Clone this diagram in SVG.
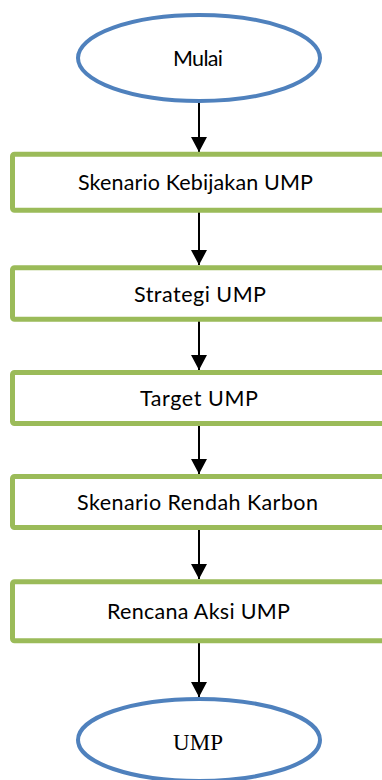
<svg xmlns="http://www.w3.org/2000/svg" width="382" height="780" viewBox="0 0 382 780">
<style>
.term{fill:#fff;stroke:#4F81BD;stroke-width:4}
.box{fill:#fff;stroke:#9BBB59;stroke-width:5}
.lbl{font-family:Lato,"Open Sans","Liberation Sans",sans-serif;font-size:21.5px;fill:#000;text-anchor:middle}
.tlbl{font-family:"Liberation Serif","Times New Roman",serif;font-size:23px;fill:#000;text-anchor:middle}
.conn{stroke:#000;stroke-width:2;fill:none;marker-end:url(#ah)}
</style>
<defs>
<marker id="ah" markerUnits="userSpaceOnUse" markerWidth="16" markerHeight="16" viewBox="0 0 16 16" refX="15" refY="8" orient="auto">
<path d="M0,0 L15,8 L0,16 Z" fill="#000"/>
</marker>
</defs>
<rect width="382" height="780" fill="#fff"/>
<g id="connectors">
<line class="conn" x1="199" y1="101" x2="199" y2="152"/>
<line class="conn" x1="199" y1="212" x2="199" y2="265"/>
<line class="conn" x1="199" y1="321" x2="199" y2="370"/>
<line class="conn" x1="199" y1="426" x2="199" y2="474"/>
<line class="conn" x1="199" y1="530" x2="199" y2="579"/>
<line class="conn" x1="199" y1="643" x2="199" y2="697"/>
</g>
<g id="mulai">
<ellipse class="term" cx="199" cy="58" rx="121" ry="43"/>
<text class="lbl" x="198" y="66" textLength="50">Mulai</text>
</g>
<g id="skenario-kebijakan">
<rect class="box" x="12.5" y="154.2" width="390" height="56" rx="2"/>
<text class="lbl" x="195.5" y="190" textLength="235">Skenario Kebijakan UMP</text>
</g>
<g id="strategi">
<rect class="box" x="12.5" y="267.8" width="390" height="51.4" rx="2"/>
<text class="lbl" x="200" y="302" textLength="132">Strategi UMP</text>
</g>
<g id="target">
<rect class="box" x="12.5" y="372.5" width="390" height="51" rx="2"/>
<text class="lbl" x="199" y="406" textLength="118">Target UMP</text>
</g>
<g id="skenario-rendah">
<rect class="box" x="12.5" y="476.5" width="390" height="51" rx="2"/>
<text class="lbl" x="197.5" y="510" textLength="241">Skenario Rendah Karbon</text>
</g>
<g id="rencana">
<rect class="box" x="12.5" y="581.8" width="390" height="59" rx="2"/>
<text class="lbl" x="198.5" y="619" textLength="183">Rencana Aksi UMP</text>
</g>
<g id="ump">
<ellipse class="term" cx="199" cy="740" rx="121" ry="41"/>
<text class="tlbl" x="198" y="750" textLength="50">UMP</text>
</g>
</svg>
